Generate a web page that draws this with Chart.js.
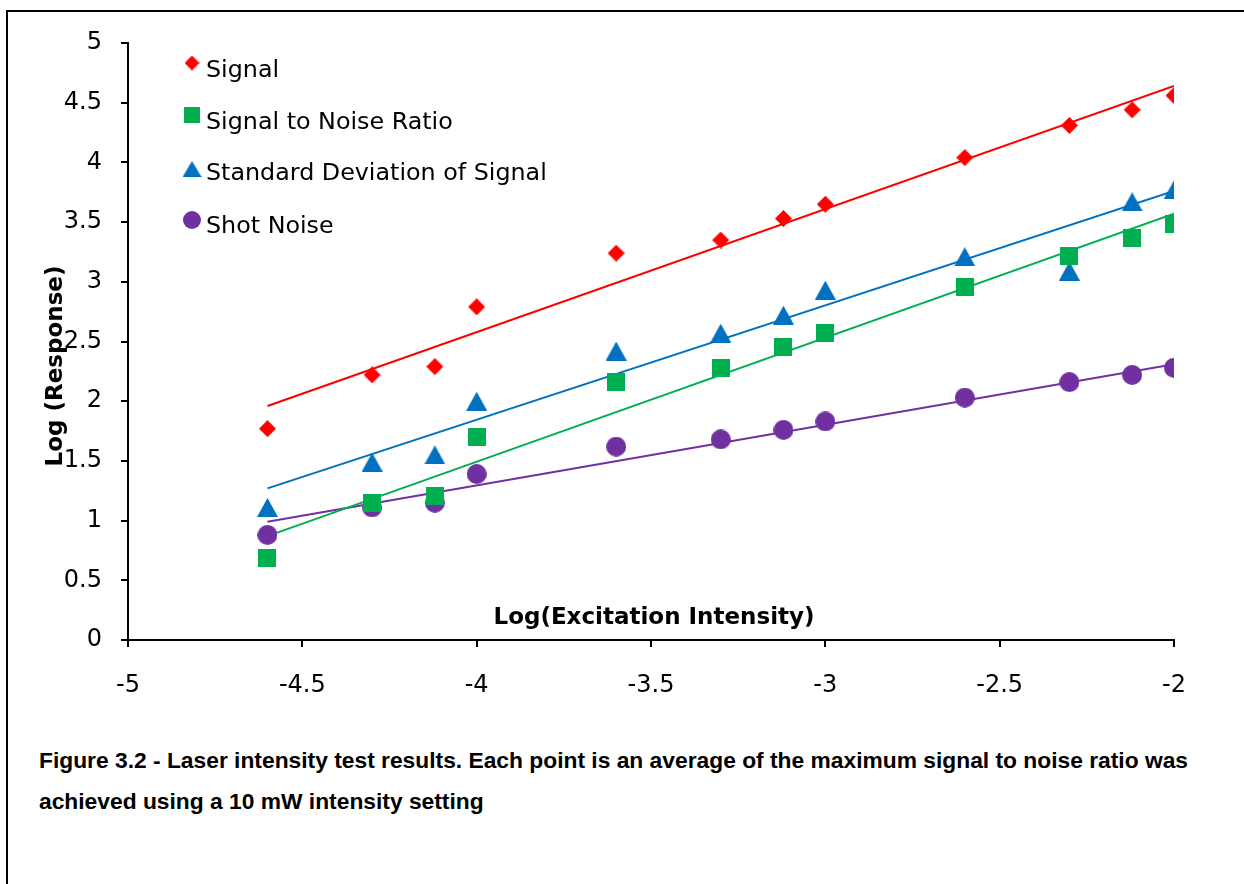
<!DOCTYPE html>
<html lang="en">
<head>
<meta charset="UTF-8" />
<title>Figure 3.2 - Laser intensity test results</title>
<script src="https://cdn.jsdelivr.net/npm/chart.js"></script>
<style>
  body {
    margin: 0;
    width: 1244px;
    height: 884px;
    overflow: hidden;
    position: relative;
    background: #fff;
    font-family: "DejaVu Sans", sans-serif;
  }
  /* frame round the figure, only left/top edges are visible */
  .frame {
    position: absolute;
    left: 6px;
    top: 10px;
    width: 1300px;
    height: 900px;
    border-left: 2px solid #000;
    border-top: 2px solid #000;
  }
  .chart-box {
    position: absolute;
    left: 0;
    top: 0;
    width: 1244px;
    height: 700px;
  }
  .caption {
    position: absolute;
    left: 39px;
    top: 740px;
    font-family: "Liberation Sans", sans-serif;
    font-weight: bold;
    font-size: 22.8px;
    line-height: 41px;
    color: #000;
    white-space: nowrap;
  }
</style>
</head>
<body>
<div class="frame"></div>
<div class="chart-box"><canvas id="chart" width="1244" height="700"></canvas></div>
<div class="caption">Figure 3.2 - Laser intensity test results. Each point is an average of the maximum signal to noise ratio was<br>achieved using a 10 mW intensity setting</div>

<script>
  // log(excitation intensity)
  const xVals = [-4.6, -4.3, -4.12, -4, -3.6, -3.3, -3.12, -3, -2.6, -2.3, -2.12, -2];

  // log(response) per series
  const signal    = [1.77, 2.22, 2.29, 2.79, 3.24, 3.35, 3.53, 3.65, 4.04, 4.31, 4.44, 4.56];
  const snr       = [0.69, 1.15, 1.21, 1.70, 2.16, 2.28, 2.45, 2.57, 2.96, 3.22, 3.37, 3.48];
  const stdDev    = [1.11, 1.49, 1.55, 2.00, 2.42, 2.57, 2.72, 2.93, 3.21, 3.09, 3.67, 3.77];
  const shotNoise = [0.88, 1.11, 1.15, 1.39, 1.62, 1.68, 1.76, 1.83, 2.03, 2.16, 2.22, 2.28];

  // linear trendline end points
  const trendX         = [-4.6, -2];
  const signalTrend    = [1.96, 4.64];
  const snrTrend       = [0.87, 3.57];
  const stdDevTrend    = [1.27, 3.76];
  const shotNoiseTrend = [0.99, 2.31];

  const seriesNames = ["Signal", "Signal to Noise Ratio", "Standard Deviation of Signal", "Shot Noise"];

  const RED = "#FF0000", GREEN = "#00B050", BLUE = "#0070C0", PURPLE = "#7030A0";

  // excel-like markers, centred on their bounding box
  function makeMarker(shape, w, h, color) {
    const c = document.createElement("canvas");
    c.width = w;
    c.height = h;
    const g = c.getContext("2d");
    g.fillStyle = color;
    g.beginPath();
    if (shape === "diamond") {
      g.moveTo(w / 2, 0); g.lineTo(w, h / 2); g.lineTo(w / 2, h); g.lineTo(0, h / 2);
    } else if (shape === "square") {
      g.rect(0, 0, w, h);
    } else if (shape === "triangle") {
      g.moveTo(w / 2, 0); g.lineTo(w, h); g.lineTo(0, h);
    } else {
      g.arc(w / 2, h / 2, w / 2, 0, Math.PI * 2);
    }
    g.closePath();
    g.fill();
    return c;
  }

  const markers = [
    makeMarker("diamond", 17, 17, RED),
    makeMarker("square", 18, 18, GREEN),
    makeMarker("triangle", 21, 19, BLUE),
    makeMarker("circle", 20, 20, PURPLE),
  ];
  const legendMarkers = [
    makeMarker("diamond", 15, 15, RED),
    makeMarker("square", 16, 16, GREEN),
    makeMarker("triangle", 19, 16, BLUE),
    makeMarker("circle", 18, 18, PURPLE),
  ];

  const pts = (ys) => xVals.map((x, i) => ({ x, y: ys[i] }));
  const trend = (ys) => trendX.map((x, i) => ({ x, y: ys[i] }));

  function scatterSet(label, ys, marker) {
    return {
      type: "scatter",
      label,
      data: pts(ys),
      pointStyle: marker,
      pointRadius: 10,
      pointHoverRadius: 10,
      borderWidth: 0,
      order: 1,
    };
  }
  function trendSet(ys, color) {
    return {
      type: "line",
      label: "",
      data: trend(ys),
      borderColor: color,
      borderWidth: 2,
      pointRadius: 0,
      fill: false,
      tension: 0,
      order: 2,
    };
  }

  // legend + axis titles drawn inside the plot like the original
  const overlay = {
    id: "overlay",
    afterDraw(chart) {
      const ctx = chart.ctx;
      ctx.save();
      const rows = [
        { mx: 192, my: 63, base: 77 },
        { mx: 192, my: 115, base: 129 },
        { mx: 192, my: 169, base: 180 },
        { mx: 192, my: 220, base: 233 },
      ];
      ctx.font = '23.8px "DejaVu Sans"';
      ctx.fillStyle = "#000";
      ctx.textAlign = "left";
      ctx.textBaseline = "alphabetic";
      rows.forEach((r, i) => {
        const m = legendMarkers[i];
        ctx.drawImage(m, r.mx - m.width / 2, r.my - m.height / 2);
        ctx.fillText(seriesNames[i], 206, r.base);
      });

      ctx.font = 'bold 23px "DejaVu Sans"';
      ctx.textAlign = "center";
      ctx.textBaseline = "middle";
      ctx.fillText("Log(Excitation Intensity)", 654, 618);

      ctx.translate(56, 366);
      ctx.rotate(-Math.PI / 2);
      ctx.fillText("Log (Response)", 0, 0);
      ctx.restore();
    },
  };

  const axisStyle = {
    border: { color: "#000", width: 2 },
    grid: { drawOnChartArea: false, drawTicks: true, tickLength: 7, color: "#000", lineWidth: 2 },
  };
  const tickLabel = (v) => String(Number(v.toFixed(2)));

  new Chart(document.getElementById("chart"), {
    type: "scatter",
    data: {
      datasets: [
        scatterSet(seriesNames[0], signal, markers[0]),
        scatterSet(seriesNames[1], snr, markers[1]),
        scatterSet(seriesNames[2], stdDev, markers[2]),
        scatterSet(seriesNames[3], shotNoise, markers[3]),
        trendSet(signalTrend, RED),
        trendSet(snrTrend, GREEN),
        trendSet(stdDevTrend, BLUE),
        trendSet(shotNoiseTrend, PURPLE),
      ],
    },
    options: {
      responsive: false,
      animation: false,
      events: [],
      layout: { padding: { left: 0, right: 70, top: 43, bottom: 0 } },
      plugins: {
        legend: { display: false },
        tooltip: { enabled: false },
      },
      scales: {
        x: {
          type: "linear",
          min: -5,
          max: -2,
          ...axisStyle,
          ticks: {
            stepSize: 0.5,
            color: "#000",
            padding: 24,
            maxRotation: 0,
            callback: tickLabel,
            font: { family: "DejaVu Sans", size: 24 },
          },
          afterFit: (s) => { s.height = 60; },
        },
        y: {
          type: "linear",
          min: 0,
          max: 5,
          ...axisStyle,
          ticks: {
            stepSize: 0.5,
            color: "#000",
            padding: 19,
            callback: tickLabel,
            font: { family: "DejaVu Sans", size: 24 },
          },
          afterFit: (s) => { s.width = 128; },
        },
      },
    },
    plugins: [overlay],
  });
</script>
</body>
</html>
